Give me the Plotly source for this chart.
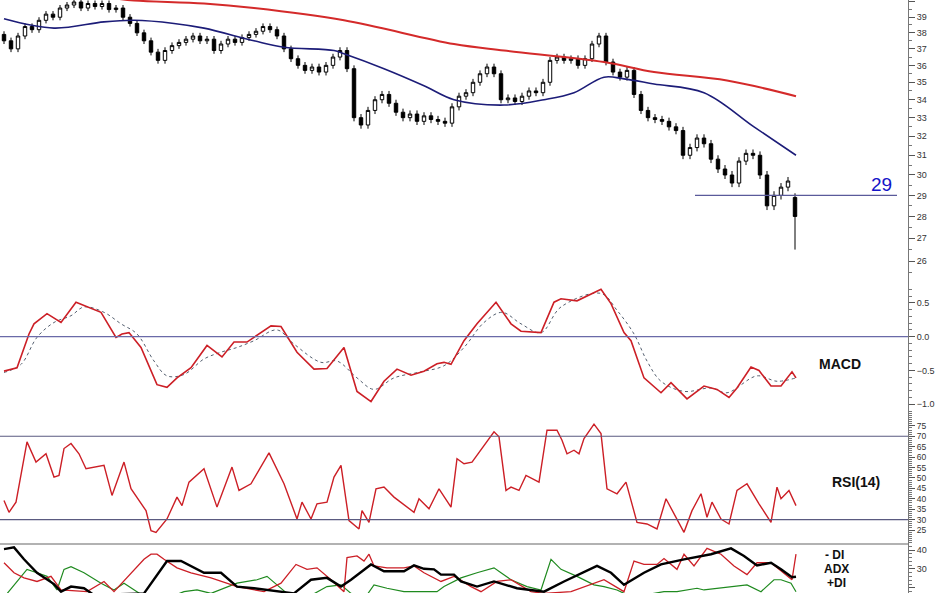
import numpy as np
import plotly.graph_objects as go

# ---- price (weekly candles, x = day number) ----
closes = [37.5,37.0,37.8,38.4,38.2,38.8,39.2,39.0,39.6,39.8,40.0,39.6,39.9,39.7,39.9,39.5,39.6,39.0,38.6,38.0,
          37.5,36.8,36.3,36.9,37.2,37.4,37.6,37.8,37.5,37.6,36.9,37.3,37.6,37.4,37.7,37.9,38.1,38.4,38.2,37.8,
          37.0,36.4,36.0,35.7,35.9,35.6,36.0,36.5,36.9,35.8,33.0,32.6,33.4,34.0,34.3,33.8,33.3,33.0,33.2,32.8,
          33.1,32.9,32.8,32.7,33.6,34.2,34.4,35.0,35.5,35.9,35.5,34.0,34.1,33.9,34.2,34.5,34.4,35.0,36.3,36.5,
          36.3,36.4,36.0,36.4,37.3,37.8,36.2,35.6,35.3,35.7,34.3,33.4,33.0,32.9,32.8,32.5,32.3,31.0,31.4,31.9,
          31.6,30.8,30.3,30.0,29.6,30.7,31.1,31.0,30.0,28.5,29.0,29.4,29.7,28.0]
days = list(range(0, 7 * len(closes), 7))
first_open = 37.9
last_open = 28.9
last_low = 26.5
wick = 0.2

opens = [first_open] + closes[:-1]
opens[-1] = last_open
highs = list(np.maximum(opens, closes) + wick)
lows = list(np.minimum(opens, closes) - wick)
lows[-1] = last_low

ma_blue_x = [0,50,100,130,170,200,250,280,330,340,380,420,450,500,540,570,600,620,650,700,750,792]
ma_blue = [38.9,38.3,38.7,38.8,38.6,38.3,37.5,37.1,36.9,36.7,35.8,34.8,34.0,33.7,34.0,34.4,35.3,35.2,34.9,34.4,32.5,31.0]
ma_red_x = [0,100,130,200,250,340,450,500,600,650,723,792]
ma_red = [40.6,40.3,40.1,39.9,39.6,38.8,37.3,36.9,36.2,35.6,35.1,34.2]
support = 29

# ---- MACD ----
macd_x = [0,13,25,30,43,57,72,80,97,112,118,125,137,153,163,173,187,203,218,230,243,267,277,293,310,323,340,353,367,380,393,407,420,433,
          440,447,460,473,492,507,517,537,550,557,573,597,607,620,627,640,657,667,683,700,713,725,733,747,755,767,777,788,792]
macd = [-0.51,-0.46,0.04,0.19,0.34,0.21,0.51,0.46,0.36,-0.01,0.04,0.06,-0.16,-0.71,-0.75,-0.61,-0.46,-0.13,-0.30,-0.08,-0.08,0.16,0.15,-0.23,-0.48,-0.47,-0.16,-0.81,-0.96,-0.66,-0.48,-0.57,-0.51,-0.40,
        -0.38,-0.41,-0.06,0.19,0.51,0.19,0.08,0.06,0.51,0.56,0.53,0.70,0.49,0.06,-0.06,-0.61,-0.83,-0.68,-0.92,-0.73,-0.78,-0.90,-0.76,-0.45,-0.50,-0.73,-0.73,-0.52,-0.61]
sig_x = [0,17,33,50,67,80,100,117,133,150,163,180,200,217,233,250,273,290,317,333,353,370,390,417,
         440,460,480,498,517,537,557,597,613,630,643,657,680,707,723,753,773,792]
sig = [-0.53,-0.41,-0.01,0.21,0.31,0.44,0.36,0.19,0.04,-0.36,-0.58,-0.56,-0.33,-0.23,-0.16,-0.06,0.10,-0.11,-0.38,-0.36,-0.61,-0.78,-0.61,-0.52,
       -0.43,-0.16,0.21,0.36,0.19,0.06,0.44,0.64,0.39,0.04,-0.36,-0.66,-0.81,-0.76,-0.83,-0.58,-0.66,-0.61]

# ---- RSI(14) ----
rsi_x = [0,5,12,23,32,42,50,55,60,67,75,82,100,108,120,127,142,147,152,163,173,178,185,200,213,228,235,247,265,280,293,298,307,313,323,330,337,345,355,358,365,372,380,390,410,415,425,435,
         447,453,460,468,490,495,502,507,515,522,535,543,553,558,563,570,575,580,590,597,603,613,622,633,643,653,662,670,680,688,697,703,708,717,725,733,743,755,767,773,777,785,792]
rsi = [39.2,33.5,38.4,67.3,57.6,61.6,50.4,51.2,64.1,66.5,61.6,54.4,56.0,41.6,57.6,44.8,34.3,24.7,23.9,30.3,40.8,36.7,48.0,54.4,36.0,55.2,44.0,47.2,62.0,47.2,30.3,38.4,30.3,37.6,38.4,50.4,56.0,29.5,25.5,34.3,28.7,44.8,45.6,40.8,33.5,40.0,35.2,44.8,
       36.0,59.2,56.8,57.6,72.1,69.7,44.0,45.6,44.0,51.2,48.0,72.9,72.9,68.1,61.6,63.3,61.6,68.9,75.8,71.3,44.8,42.4,48.0,28.7,27.9,25.5,40.0,32.7,23.9,34.3,42.4,31.1,38.4,30.3,27.9,44.0,47.2,37.6,28.7,45.6,40.0,44.0,36.7]

# ---- DMI ----
adx_x = [0,10,20,33,50,57,67,80,90,140,163,177,200,217,233,250,290,307,323,337,347,367,380,400,410,420,430,437,
         450,457,473,490,513,540,560,593,607,620,640,657,680,707,727,740,753,767,777,788,792]
adx = [40.5,41.4,35.1,28,22,18,20.7,19.8,16.2,17.1,34.2,34.2,28,28,20.7,19.8,17.1,24.3,25.3,20.7,24.3,32.4,28.8,28.8,31.9,30.1,29.8,27,
       27,23.4,20.7,23.4,19.8,18,23.4,31.6,28,21.6,28,32.4,35.1,37.8,40.9,36.9,31.9,33.3,29.8,25.6,25.9]
mdi_x = [0,10,20,33,47,57,83,100,110,127,140,147,153,160,173,187,207,233,260,277,292,303,313,327,340,343,353,360,365,370,383,400,410,420,437,
         450,453,467,477,493,507,527,540,567,600,620,630,640,653,660,673,680,690,703,717,730,743,753,767,788,792]
mdi = [33.3,28,25.3,23.4,26.1,18.9,18,23.4,18,28,35.1,37.8,37.8,35.1,30.6,28,25.3,20.7,18,22.5,32.4,29.8,30.6,24.3,18,36,36.9,34.2,37.8,31.6,30.6,30.6,31.6,28,23.4,
       26.1,25.3,20.7,18,23.4,24.3,18,17.1,18,24.3,18,34.2,32.4,32.4,35.5,29.8,37.8,31.6,40.9,37.8,31.6,27,33.3,33.3,24.3,37.8]
pdi_x = [0,17,23,33,43,53,60,67,80,97,110,120,133,150,180,193,207,220,233,253,263,273,283,300,323,337,347,360,370,383,400,420,433,
         440,457,473,490,497,507,523,537,547,557,573,590,600,613,620,627,640,660,673,693,700,730,743,757,770,777,787,792]
pdi = [15,26.1,29.8,28,26.1,18.9,29.8,31.2,28,22.5,18.9,22.5,18,12,18,18.9,17.1,19.8,22.5,24.3,26.1,21.6,17.1,14,20.7,21.6,17.1,14,21.6,19.8,18,18,18,
       20.7,25.3,28,30.6,28,24.3,20.7,18.9,35.1,29.8,26.1,21.6,20.7,18.9,17.1,16.2,16.2,18,18,19.8,18.9,20.7,21.6,18,24.3,24.3,22.5,18]

RED = "#cc1f26"
NAVY = "#1c1c78"
fig = go.Figure()
fig.add_trace(go.Candlestick(x=days, open=opens, high=highs, low=lows, close=closes,
                             increasing=dict(line=dict(color="black", width=1), fillcolor="white"),
                             decreasing=dict(line=dict(color="black", width=1), fillcolor="black"),
                             whiskerwidth=0, xaxis="x", yaxis="y"))
fig.add_trace(go.Scatter(x=ma_red_x, y=ma_red, mode="lines", line=dict(color="#d42a2a", width=2, shape="spline"), yaxis="y"))
fig.add_trace(go.Scatter(x=ma_blue_x, y=ma_blue, mode="lines", line=dict(color=NAVY, width=1.6, shape="spline"), yaxis="y"))
fig.add_trace(go.Scatter(x=[days[-1] - 100, days[-1] + 102], y=[support, support], mode="lines",
                         line=dict(color="#5a5a9a", width=1.3), yaxis="y"))

fig.add_trace(go.Scatter(x=sig_x, y=sig, mode="lines", line=dict(color="#556070", width=1, dash="dot", shape="spline"), yaxis="y2"))
fig.add_trace(go.Scatter(x=macd_x, y=macd, mode="lines", line=dict(color=RED, width=1.6), yaxis="y2"))
fig.add_trace(go.Scatter(x=rsi_x, y=rsi, mode="lines", line=dict(color=RED, width=1.4), yaxis="y3"))
fig.add_trace(go.Scatter(x=pdi_x, y=pdi, mode="lines", line=dict(color="#1f8a1f", width=1.2), yaxis="y4"))
fig.add_trace(go.Scatter(x=mdi_x, y=mdi, mode="lines", line=dict(color=RED, width=1.3), yaxis="y4"))
fig.add_trace(go.Scatter(x=adx_x, y=adx, mode="lines", line=dict(color="black", width=2.4), yaxis="y4"))

H = 593.0
def dom(top, bot):
    return [1 - bot / H, 1 - top / H]

common = dict(side="right", anchor="x", ticks="outside", ticklen=6, tickcolor="#555", showline=True,
              linecolor="#777", showgrid=False, zeroline=False, tickfont=dict(size=9, color="#333", family="Arial"),
              minor=dict(ticks="outside", ticklen=3, tickcolor="#777"))
lab = dict(size=12, color="#111", family="Arial")
fig.update_layout(
    width=948, height=593, margin=dict(l=0, r=40, t=0, b=0, pad=0, autoexpand=False), showlegend=False,
    paper_bgcolor="white", plot_bgcolor="white",
    xaxis=dict(range=[-4, 904], visible=False, rangeslider=dict(visible=False), fixedrange=True, automargin=False),
    yaxis=dict(common, domain=dom(0, 288), type="log", range=[1.3955, 1.6035],
               tickvals=list(range(26, 41)), minor=dict(ticks="outside", ticklen=3, tickcolor="#777",
               tickvals=[x + 0.5 for x in range(24, 41)])),
    yaxis2=dict(common, domain=dom(288, 410), range=[-1.085, 0.72], tickvals=[-1.0, -0.5, 0.0, 0.5],
                tickformat=".1f", minor=dict(ticks="outside", ticklen=3, tickcolor="#777", dtick=0.1)),
    yaxis3=dict(common, domain=dom(410, 544), range=[18.3, 82.6], tickvals=list(range(25, 80, 5)),
                tickfont=dict(size=8.5, color="#333", family="Arial"),
                minor=dict(ticks="outside", ticklen=3, tickcolor="#777", dtick=1)),
    yaxis4=dict(common, domain=dom(544, 593), range=[17.3, 43.2], tickvals=[20, 30, 40],
                minor=dict(ticks="outside", ticklen=3, tickcolor="#777", dtick=2)),
    shapes=[
        dict(type="line", xref="x", yref="y2", x0=-4, x1=904, y0=0, y1=0, line=dict(color="#6a6aa8", width=1.2)),
        dict(type="line", xref="x", yref="y3", x0=-4, x1=904, y0=70, y1=70, line=dict(color="#5a5a80", width=1.2)),
        dict(type="line", xref="x", yref="y3", x0=-4, x1=904, y0=30, y1=30, line=dict(color="#5a5a80", width=1.2)),
        dict(type="line", xref="paper", yref="paper", x0=0, x1=1, y0=1 - 544 / H, y1=1 - 544 / H,
             line=dict(color="#666", width=1.2)),
    ],
    annotations=[
        dict(x=877, y=float(np.log10(support)), xref="x", yref="y", text="29", showarrow=False, yshift=11,
             font=dict(size=19, color="#1414c8", family="Arial")),
        dict(x=836, y=-0.4, xref="x", yref="y2", text="<b>MACD</b>", showarrow=False,
             font=dict(size=14, color="#111", family="Arial")),
        dict(x=852, y=48, xref="x", yref="y3", text="<b>RSI(14)</b>", showarrow=False,
             font=dict(size=14, color="#111", family="Arial")),
        dict(x=830, y=37.6, xref="x", yref="y4", text="<b>- DI</b>", showarrow=False, font=lab),
        dict(x=832, y=30.0, xref="x", yref="y4", text="<b>ADX</b>", showarrow=False, font=lab),
        dict(x=832, y=22.4, xref="x", yref="y4", text="<b>+DI</b>", showarrow=False, font=lab),
    ],
)
fig.write_html("out.html", config={"displayModeBar": False})
with open("out.html", encoding="utf-8") as f:
    page = f.read()
page = page.replace("<body>", '<body style="margin:0;overflow:hidden">', 1)
with open("out.html", "w", encoding="utf-8") as f:
    f.write(page)
